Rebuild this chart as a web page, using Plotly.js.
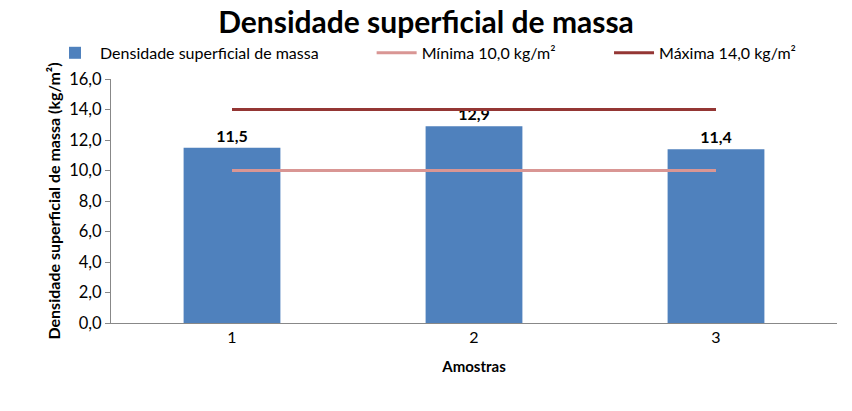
<!DOCTYPE html>
<html><head><meta charset="utf-8">
<script src="https://cdn.plot.ly/plotly-3.0.1.min.js"></script>
<style>body{margin:0;background:#fff}#c{width:852px;height:411px}</style>
</head><body><div id="c"></div>
<script>
const categories = ["1", "2", "3"];
const densidade = [11.5, 12.9, 11.4];
const minima = [10.0, 10.0, 10.0];
const maxima = [14.0, 14.0, 14.0];
const yTicks = [0, 2, 4, 6, 8, 10, 12, 14, 16];

const FONT = "Lato, 'Open Sans', sans-serif";
const data = [
  {type: "bar", x: categories, y: densidade, name: "Densidade superficial de massa",
   marker: {color: "#4F81BD"}, width: 0.4, legend: "legend",
   texttemplate: "%{y:.1f}", textposition: "outside", cliponaxis: false,
   textfont: {family: FONT, size: 16, color: "#000", weight: "bold"}},
  {type: "scatter", mode: "lines", x: categories, y: minima, name: "Mínima 10,0 kg/m²",
   line: {color: "#D99694", width: 3}, legend: "legend2"},
  {type: "scatter", mode: "lines", x: categories, y: maxima, name: "Máxima 14,0 kg/m²",
   line: {color: "#943634", width: 3}, legend: "legend3"}
];
const legBase = {orientation: "h", xanchor: "left", y: 1.107, yanchor: "middle",
                 font: {family: FONT, size: 16, color: "#000"}, itemwidth: 40, bgcolor: "rgba(0,0,0,0)"};
const layout = {
  width: 852, height: 411,
  margin: {l: 111, r: 15, t: 79, b: 88},
  paper_bgcolor: "#fff", plot_bgcolor: "#fff",
  separators: ",.",
  font: {family: FONT, size: 16, color: "#000"},
  title: {text: "Densidade superficial de massa", x: 0.5, xanchor: "center", y: 0.945, yanchor: "middle",
          font: {family: FONT, size: 30, color: "#000", weight: "bold"}},
  showlegend: true,
  legend: Object.assign({}, legBase, {x: -0.084}),
  legend2: Object.assign({}, legBase, {x: 0.359}),
  legend3: Object.assign({}, legBase, {x: 0.686}),
  xaxis: {type: "category", range: [-0.5, 2.5], showline: true, linecolor: "#888", linewidth: 1,
          ticks: "", tickfont: {size: 16, family: FONT}, showgrid: false, zeroline: false,
          title: {text: "Amostras", standoff: 16, font: {family: FONT, size: 15, weight: "bold"}}},
  yaxis: {range: [0, 16], tickvals: yTicks, tickformat: ".1f", showline: true, linecolor: "#888", linewidth: 1,
          ticks: "outside", ticklen: 5, tickcolor: "#888", showgrid: false, zeroline: false,
          tickfont: {size: 16.5, family: FONT},
          title: {text: "Densidade superficial de massa (kg/m²)", standoff: 4, font: {family: FONT, size: 16, weight: "bold"}}},
  bargap: 0.6
};
Plotly.newPlot("c", data, layout, {displayModeBar: false, staticPlot: true});
</script></body></html>
